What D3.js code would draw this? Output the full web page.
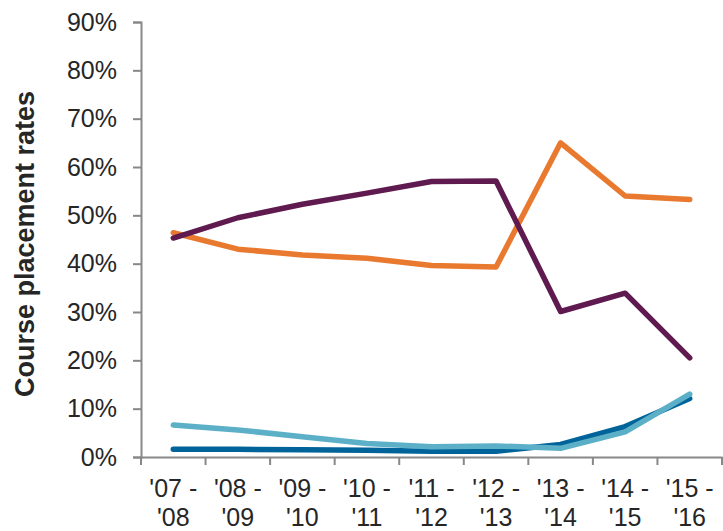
<!DOCTYPE html>
<html>
<head>
<meta charset="utf-8">
<script src="https://cdn.jsdelivr.net/npm/d3@7"></script>
<style>
  body { margin: 0; background: #fff; }
  svg text { font-family: "Liberation Sans", Arial, sans-serif; fill: #262626; }
</style>
</head>
<body>
<div id="chart"></div>
<script>
var years = ["'07 -|'08", "'08 -|'09", "'09 -|'10", "'10 -|'11", "'11 -|'12", "'12 -|'13", "'13 -|'14", "'14 -|'15", "'15 -|'16"];
var yTicks = [0, 0.1, 0.2, 0.3, 0.4, 0.5, 0.6, 0.7, 0.8, 0.9];

var darkBlue = [0.016, 0.016, 0.015, 0.014, 0.012, 0.012, 0.026, 0.063, 0.121];
var lightBlue = [0.066, 0.056, 0.042, 0.028, 0.021, 0.023, 0.018, 0.052, 0.130];
var orange = [0.464, 0.430, 0.418, 0.411, 0.396, 0.393, 0.650, 0.540, 0.533];
var purple = [0.453, 0.495, 0.523, 0.546, 0.570, 0.571, 0.301, 0.339, 0.205];

var series = [
  { values: darkBlue, color: '#00649a' },
  { values: lightBlue, color: '#5bb0c8' },
  { values: orange, color: '#e8792f' },
  { values: purple, color: '#5f1a4f' }
];

var width = 723, height = 531;
var margin = { top: 22, right: 1, bottom: 74, left: 141 };
var iw = width - margin.left - margin.right;
var ih = height - margin.top - margin.bottom;

var svg = d3.select('#chart').append('svg').attr('width', width).attr('height', height);
var g = svg.append('g').attr('transform', 'translate(' + margin.left + ',' + margin.top + ')');

var x = d3.scaleBand().domain(years).range([0, iw]);
var y = d3.scaleLinear().domain([0, 0.9]).range([ih, 0]);

// y axis
var yAxis = g.append('g').call(d3.axisLeft(y).tickValues(yTicks).tickSize(8).tickPadding(16)
  .tickFormat(function (d) { return Math.round(d * 100) + '%'; }));
yAxis.selectAll('text').attr('font-size', '25px');

// x axis, ticks on band edges
var xAxis = g.append('g').attr('transform', 'translate(0,' + ih + ')')
  .call(d3.axisBottom(x).tickSize(0).tickFormat(''));
xAxis.selectAll('.tick').remove();
var edges = d3.range(years.length + 1).map(function (i) { return i * x.step(); });
xAxis.selectAll('line.edge').data(edges).enter().append('line')
  .attr('class', 'edge').attr('x1', function (d) { return d; }).attr('x2', function (d) { return d; })
  .attr('y1', 0).attr('y2', 8).attr('stroke', '#888').attr('stroke-width', 2);

var lbl = xAxis.selectAll('text.lbl').data(years).enter().append('text')
  .attr('class', 'lbl')
  .attr('text-anchor', 'middle')
  .attr('font-size', '25px')
  .attr('transform', function (d) { return 'translate(' + (x(d) + x.bandwidth() / 2) + ',0)'; });
lbl.append('tspan').attr('x', 0).attr('y', 40).text(function (d) { return d.split('|')[0]; });
lbl.append('tspan').attr('x', 0).attr('y', 69).text(function (d) { return d.split('|')[1]; });

g.selectAll('.domain, .tick line').attr('stroke', '#888').attr('stroke-width', 2);

// lines
var line = d3.line()
  .x(function (d, i) { return x(years[i]) + x.bandwidth() / 2; })
  .y(function (d) { return y(d); });

series.forEach(function (s) {
  g.append('path').datum(s.values).attr('d', line)
    .attr('fill', 'none').attr('stroke', s.color).attr('stroke-width', 5.5)
    .attr('stroke-linejoin', 'round').attr('stroke-linecap', 'round');
});

// y label
svg.append('text')
  .attr('transform', 'translate(34,244) rotate(-90)')
  .attr('text-anchor', 'middle')
  .attr('font-size', '27px')
  .attr('font-weight', 'bold')
  .text('Course placement rates');
</script>
</body>
</html>
